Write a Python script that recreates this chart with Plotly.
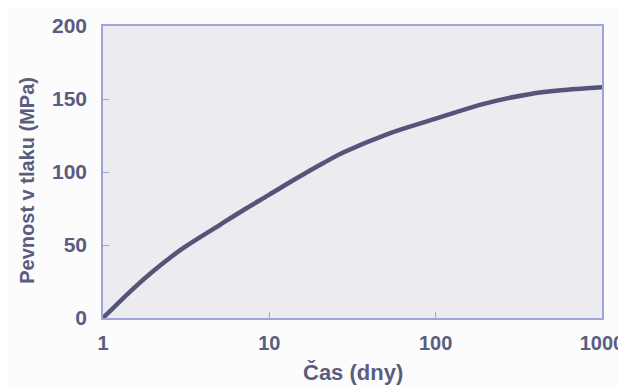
import plotly.graph_objects as go

days = [1, 1.5, 2, 3, 5, 7, 10, 14, 21, 28, 50, 100, 200, 365, 600, 1000]
strength = [0, 19.5, 32, 47.5, 63.5, 74, 84.5, 94.5, 106, 113.5, 125.5, 136.5, 147, 153.3, 156.2, 158]

x_tickvals = [1, 10, 100, 1000]
x_ticktext = ["1", "10", "100", "1000"]
y_tickvals = [0, 50, 100, 150, 200]

x_title = "Čas (dny)"
y_title = "Pevnost v tlaku (MPa)"

text_color = "#5a5c80"
frame_color = "#9ca4d8"
font_family = "Liberation Sans, Arial, sans-serif"

fig = go.Figure()
fig.add_trace(go.Scatter(
    x=days, y=strength, mode="lines",
    line=dict(color="#55557a", width=4.5, shape="spline", smoothing=1.0),
    hoverinfo="skip", showlegend=False,
))

# page body has an 8px margin, so the figure is offset by (8, 8)
fig.update_layout(
    width=618, height=379,
    margin=dict(l=95, r=24, t=18, b=69, autoexpand=False),
    paper_bgcolor="#fcfcfd",
    plot_bgcolor="#ebebf0",
    font=dict(family=font_family, color=text_color),
    showlegend=False,
)

fig.update_xaxes(
    type="log", range=[0, 3], automargin=False,
    tickvals=x_tickvals, ticktext=x_ticktext,
    ticks="inside", ticklen=6, tickwidth=1.2, tickcolor=frame_color,
    showline=True, linecolor=frame_color, linewidth=1.5, mirror=True,
    showgrid=False, zeroline=False,
    tickfont=dict(family=font_family, size=20, color=text_color, weight="bold"),
    ticklabelstandoff=6,
)
fig.update_yaxes(
    range=[0, 200], automargin=False,
    tickvals=y_tickvals,
    ticks="inside", ticklen=6, tickwidth=1.2, tickcolor=frame_color,
    showline=True, linecolor=frame_color, linewidth=1.5, mirror=True,
    showgrid=False, zeroline=False,
    tickfont=dict(family=font_family, size=21, color=text_color, weight="bold"),
    ticklabelstandoff=10,
)

fig.add_annotation(
    text=x_title, xref="paper", yref="paper", x=0.5, y=0,
    yshift=-54, showarrow=False, xanchor="center", yanchor="middle",
    font=dict(family=font_family, size=22, color=text_color, weight="bold"),
)
fig.add_annotation(
    text=y_title, xref="paper", yref="paper", x=0, y=0.47,
    xshift=-76, showarrow=False, xanchor="center", yanchor="middle",
    textangle=-90,
    font=dict(family=font_family, size=20, color=text_color, weight="bold"),
)

fig.write_html("out.html")
